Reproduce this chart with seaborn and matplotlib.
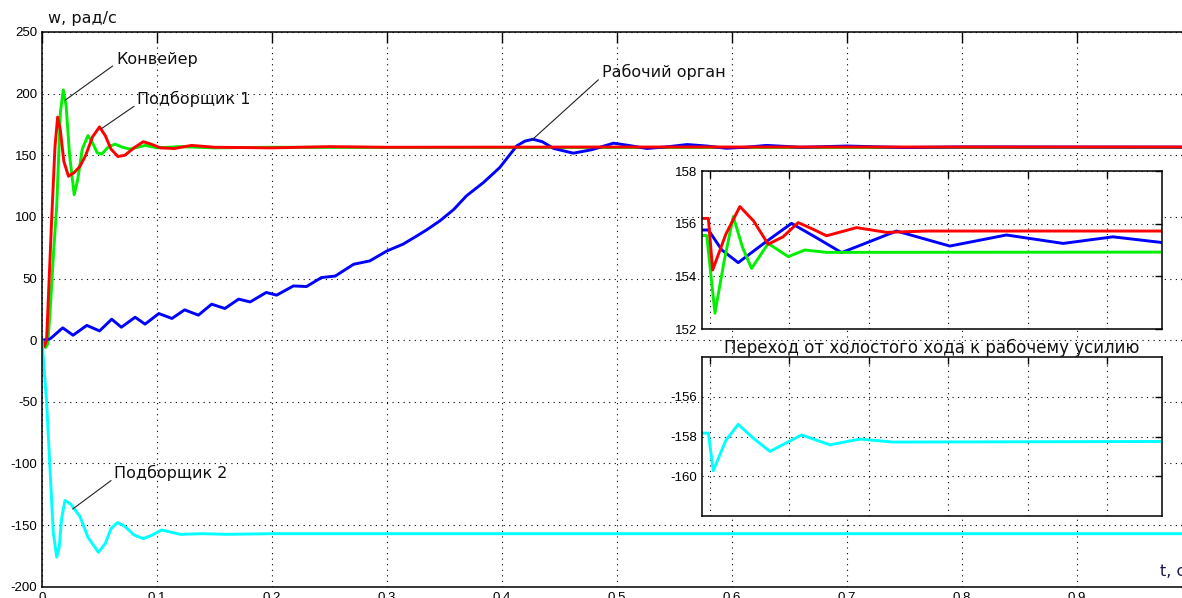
import numpy as np
import pandas as pd
import matplotlib
matplotlib.use('Agg')
import matplotlib.pyplot as plt
import seaborn as sns

# --- main plot data (t, s -> w, rad/s) ---
t_conv = [0, 0.003, 0.005, 0.007, 0.010, 0.0128, 0.016, 0.0185, 0.021, 0.024, 0.028, 0.031,
          0.035, 0.040, 0.044, 0.048, 0.052, 0.058, 0.0635, 0.070, 0.0765, 0.083, 0.090, 0.100,
          0.120, 0.150, 0.200, 0.300, 0.500, 0.700, 1.0]
w_conv = [0, -6, -3, 23, 70, 109, 185, 203, 190, 150, 118, 130,
          155, 166, 160, 152, 151, 157, 159, 156.5, 155, 156.5, 158, 156,
          157, 156, 156.5, 156.3, 156.3, 156.3, 156.3]

t_pick1 = [0, 0.002, 0.004, 0.0084, 0.0113, 0.0136, 0.016, 0.019, 0.023, 0.028, 0.033, 0.038,
           0.044, 0.050, 0.055, 0.060, 0.066, 0.072, 0.080, 0.088, 0.095, 0.103, 0.115, 0.130,
           0.150, 0.200, 0.250, 0.300, 0.500, 0.700, 1.0]
w_pick1 = [0, -5, 0, 98, 157, 181, 170, 145, 133, 136, 141, 150,
           165, 173, 166, 155, 149, 150, 156, 161, 159, 156, 155.5, 158,
           156.5, 156, 157, 156.5, 156.7, 156.7, 156.7]

t_work = [0, 0.007, 0.018, 0.027, 0.039, 0.050, 0.0606, 0.069, 0.081, 0.0896, 0.1016, 0.113,
          0.124, 0.136, 0.1475, 0.159, 0.171, 0.181, 0.195, 0.204, 0.2186, 0.230, 0.243, 0.255,
          0.271, 0.285, 0.300, 0.314, 0.326, 0.3345, 0.346, 0.358, 0.369, 0.384, 0.398, 0.4128,
          0.420, 0.427, 0.435, 0.445, 0.462, 0.478, 0.497, 0.510, 0.526, 0.545, 0.561, 0.578,
          0.595, 0.612, 0.630, 0.660, 0.700, 0.750, 0.800, 1.0]
w_work = [0, 1, 10, 4, 12, 7.5, 17, 10.5, 18.6, 13, 21.6, 17.6,
          24.6, 20.3, 29.2, 25.7, 33.3, 31, 38.7, 36.5, 44, 43.5, 50.8, 52,
          61.6, 64.3, 72.4, 77.9, 84.6, 89.5, 96.8, 106, 117, 128, 140, 157.6,
          161.5, 163, 161, 155.5, 151.7, 154.5, 159.8, 158, 155.5, 157, 158.7, 157.5,
          155.7, 156.5, 158, 156.5, 157.5, 156.3, 156.8, 156.6]

t_pick2 = [0, 0.004, 0.007, 0.0098, 0.0128, 0.015, 0.017, 0.020, 0.025, 0.029, 0.033, 0.040,
           0.049, 0.055, 0.060, 0.0655, 0.072, 0.080, 0.088, 0.095, 0.104, 0.120, 0.140, 0.160,
           0.200, 0.500, 1.0]
w_pick2 = [0, -50, -105, -156, -176, -168, -145, -130, -133, -138, -143, -160,
           -172, -165, -153, -148, -151, -158, -161, -158.5, -154, -157.5, -157, -157.5,
           -157, -157, -157]

# --- inset data (transition from idle to working load) ---
x_in_red = [-0.1, -0.02, 0.034, 0.2, 0.377, 0.55, 0.733, 0.92, 1.111, 1.29, 1.468, 1.845, 2.223, 2.726, 5.7]
w_in_red = [156.2, 156.2, 154.24, 155.6, 156.65, 156.1, 155.22, 155.5, 156.04, 155.8, 155.54, 155.85, 155.67, 155.72, 155.72]

x_in_green = [-0.1, -0.04, 0.063, 0.18, 0.294, 0.41, 0.524, 0.733, 0.985, 1.195, 1.468, 5.7]
w_in_green = [155.55, 155.55, 152.6, 154.6, 156.27, 155.1, 154.3, 155.25, 154.75, 155.0, 154.91, 154.92]

x_in_blue = [-0.1, -0.02, 0.15, 0.356, 0.7, 1.027, 1.35, 1.657, 2.349, 3.019, 3.732, 4.445, 5.073, 5.7]
w_in_blue = [155.76, 155.76, 155.0, 154.52, 155.3, 156.01, 155.45, 154.9, 155.72, 155.15, 155.57, 155.25, 155.5, 155.28]

x_in_cyan = [-0.1, -0.02, 0.042, 0.2, 0.356, 0.55, 0.755, 1.153, 1.509, 1.887, 2.306, 5.7]
w_in_cyan = [-157.83, -157.83, -159.72, -158.2, -157.39, -158.1, -158.75, -157.92, -158.42, -158.13, -158.28, -158.25]

GREEN = '#00f000'
RED = '#ff0000'
BLUE = '#0000ff'
CYAN = '#00ffff'

sns.set_style('white')
plt.rcParams['font.family'] = ['DejaVu Sans']
plt.rcParams['axes.unicode_minus'] = False

GRID = dict(color='k', linestyle=(0, (1, 4)), linewidth=0.8)
TICKFONT = dict(family='Liberation Sans', size=9.5)
TXT = 11.5


def draw(ax, x, y, color):
    df = pd.DataFrame({'x': x, 'y': y})
    sns.lineplot(data=df, x='x', y='y', ax=ax, color=color, linewidth=2.1,
                 legend=False, estimator=None, sort=False)


def style_axes(ax):
    ax.tick_params(direction='in', length=8, width=1, top=True, right=True,
                   colors='k', pad=3.5)
    for lab in ax.get_xticklabels() + ax.get_yticklabels():
        lab.set_fontfamily(TICKFONT['family'])
        lab.set_fontsize(TICKFONT['size'])
    for s in ax.spines.values():
        s.set_color('k')
        s.set_linewidth(1.1)
    ax.grid(True, **GRID)
    ax.set_xlabel('')
    ax.set_ylabel('')


fig = plt.figure(figsize=(11.82, 5.98), dpi=100)
W, H = 1182, 598

# main axes (right edge lies just beyond the picture, as in the source)
ax = fig.add_axes([42 / W, 1 - 586.7 / H, 1150 / W, (586.7 - 32) / H])
draw(ax, t_conv, w_conv, GREEN)
draw(ax, t_work, w_work, BLUE)
draw(ax, t_pick1, w_pick1, RED)
draw(ax, t_pick2, w_pick2, CYAN)
ax.set_xlim(0, 1.0)
ax.set_ylim(-200, 250)
ax.set_xticks(np.arange(0, 1.01, 0.1))
ax.set_xticklabels(['0', '0.1', '0.2', '0.3', '0.4', '0.5', '0.6', '0.7', '0.8', '0.9', '1'])
ax.set_yticks(np.arange(-200, 251, 50))
style_axes(ax)

ann = dict(ha='left', va='center', fontsize=TXT, color='#111111',
           arrowprops=dict(arrowstyle='-', color='#222222', lw=0.8,
                           relpos=(0, 0.2), shrinkA=0, shrinkB=0))
ax.annotate('Конвейер', xy=(0.020, 194.6), xytext=(0.0643, 228), **ann)
ax.annotate('Подборщик 1', xy=(0.0519, 171.7), xytext=(0.0829, 195.5), **ann)
ax.annotate('Рабочий орган', xy=(0.4258, 162.2), xytext=(0.4867, 217.6), **ann)
ax.annotate('Подборщик 2', xy=(0.0267, -137), xytext=(0.0629, -108), **ann)

fig.text(48 / W, 1 - 19 / H, 'w, рад/с', ha='left', va='center', fontsize=TXT, color='#111111')
fig.text(1160 / W, 1 - 572 / H, 't, c', ha='left', va='center', fontsize=TXT, color='#1a1a4a')

# inset 1: speeds near 156
ax1 = fig.add_axes([702 / W, 1 - 329 / H, 460 / W, 158 / H])
ax1.set_facecolor('white')
draw(ax1, x_in_blue, w_in_blue, BLUE)
draw(ax1, x_in_green, w_in_green, GREEN)
draw(ax1, x_in_red, w_in_red, RED)
ax1.set_xlim(-0.1, 5.69)
ax1.set_ylim(152, 158)
ax1.set_xticks(range(6))
ax1.set_xticklabels([])
ax1.set_yticks([152, 154, 156, 158])
style_axes(ax1)
ax1.tick_params(length=5)

# inset 2: picker 2
ax2 = fig.add_axes([702 / W, 1 - 516 / H, 460 / W, 159 / H])
ax2.set_facecolor('white')
draw(ax2, x_in_cyan, w_in_cyan, CYAN)
ax2.set_xlim(-0.1, 5.69)
ax2.set_ylim(-162, -154)
ax2.set_xticks(range(6))
ax2.set_xticklabels([])
ax2.set_yticks([-160, -158, -156])
style_axes(ax2)
ax2.tick_params(length=5)
ax2.set_title('Переход от холостого хода к рабочему усилию', fontsize=12,
              color='#111111', pad=2)

fig.savefig('out.png', dpi=100)
